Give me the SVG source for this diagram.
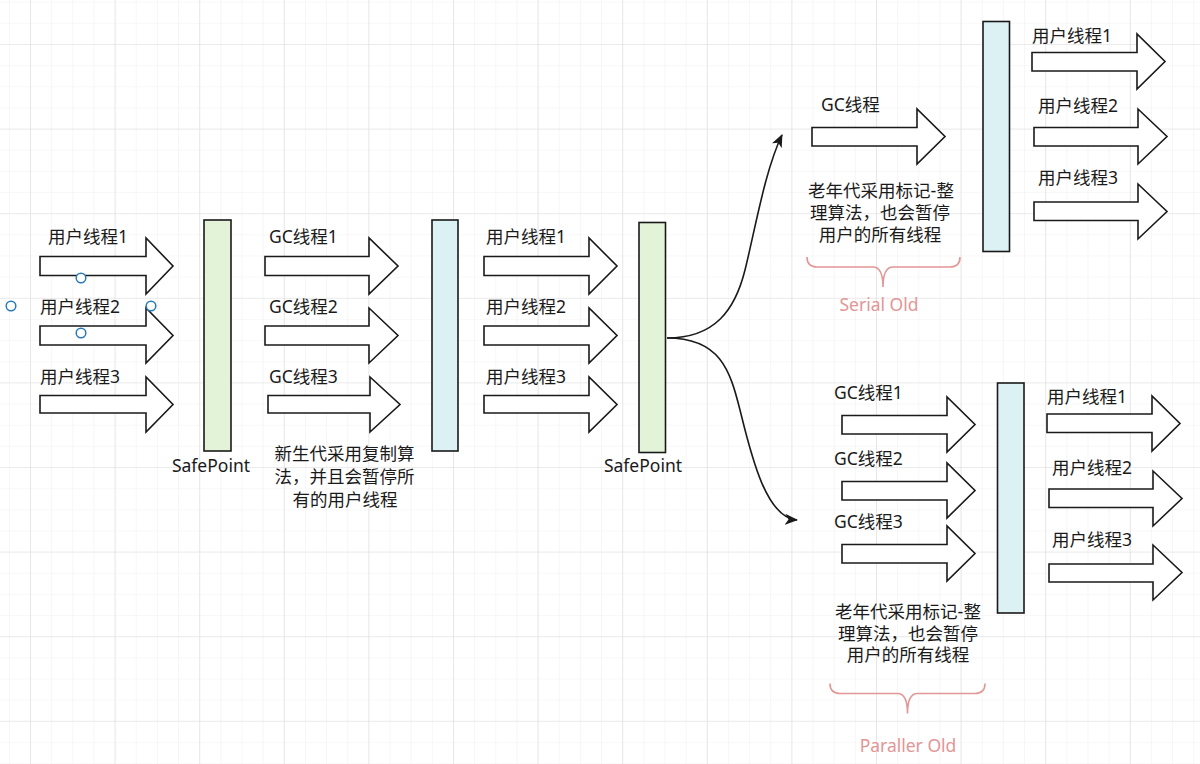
<svg xmlns="http://www.w3.org/2000/svg" width="1200" height="764" viewBox="0 0 1200 764">
<style>
  .arr { fill: #ffffff; stroke: #1a1a1a; stroke-width: 1.6; stroke-linejoin: miter; }
  .bar-g { fill: #e3f3d8; stroke: #1a1a1a; stroke-width: 1.6; }
  .bar-c { fill: #dbf1f4; stroke: #1a1a1a; stroke-width: 1.6; }
  .lbl { font-family: "Microsoft YaHei", "Noto Sans", "Noto Sans CJK SC", sans-serif; font-size: 17.5px; fill: #1a1a1a; }
  .note { font-family: "Liberation Sans", "Noto Sans CJK SC", sans-serif; font-size: 17.5px; fill: #1a1a1a; text-anchor: middle; }
  .red { font-family: "Noto Sans", "Noto Sans CJK SC", sans-serif; font-size: 17.5px; fill: #e39696; text-anchor: middle; }
  .brace { fill: none; stroke: #e39696; stroke-width: 1.6; }
  .edge { fill: none; stroke: #1a1a1a; stroke-width: 1.6; }
  .handle { fill: #ffffff; stroke: #2a7ab8; stroke-width: 1.5; }
</style>
<defs>
  <pattern id="minor" x="30" y="44" width="21.15" height="21.15" patternUnits="userSpaceOnUse">
    <path d="M0,0 H21.15 M0,0 V21.15" fill="none" stroke="#f1f1f1" stroke-width="1.2"/>
  </pattern>
  <pattern id="major" x="30" y="44" width="84.6" height="84.6" patternUnits="userSpaceOnUse">
    <path d="M0,0 H84.6 M0,0 V84.6" fill="none" stroke="#dedede" stroke-width="1.2"/>
  </pattern>
  <marker id="head" markerWidth="13" markerHeight="11" refX="12" refY="5.5" orient="auto" markerUnits="userSpaceOnUse">
    <path d="M0,0 L13,5.5 L0,11 L3.5,5.5 Z" fill="#1a1a1a"/>
  </marker>
</defs>
<rect width="1200" height="764" fill="#ffffff"/>
<rect width="1200" height="764" fill="url(#minor)"/>
<rect width="1200" height="764" fill="url(#major)"/>

<g id="connectors">
  <path class="edge" d="M667,338 C715,338 735,310 745,270 S765,170 782,135" marker-end="url(#head)"/>
  <path class="edge" d="M667,338 C720,338 730,370 740,410 S765,518 797,520" marker-end="url(#head)"/>
</g>

<!-- Left user threads -->
<g id="user-left-1">
  <polygon class="arr" points="40,256.5 146,256.5 146,238 173,266 146,294 146,275.5 40,275.5"/>
  <text class="lbl" x="48" y="243">用户线程1</text>
</g>
<g id="user-left-2">
  <polygon class="arr" points="40,326 146,326 146,308 173,335.5 146,363 146,345 40,345"/>
  <text class="lbl" x="40" y="313">用户线程2</text>
</g>
<g id="user-left-3">
  <polygon class="arr" points="40,395.5 146,395.5 146,377 173,404.5 146,432 146,413 40,413"/>
  <text class="lbl" x="40" y="383">用户线程3</text>
</g>
<g id="handles">
  <circle class="handle" cx="81" cy="278" r="4.8"/>
  <circle class="handle" cx="11" cy="306" r="4.8"/>
  <circle class="handle" cx="151" cy="306" r="4.8"/>
  <circle class="handle" cx="81" cy="333" r="4.8"/>
</g>

<g id="safepoint-1">
  <rect class="bar-g" x="204" y="220" width="27" height="231"/>
  <text class="lbl" x="211" y="472" text-anchor="middle">SafePoint</text>
</g>

<!-- Young GC threads -->
<g id="gc-young-1">
  <polygon class="arr" points="265,256.5 369,256.5 369,238 398,266 369,294 369,275.5 265,275.5"/>
  <text class="lbl" x="269" y="243">GC线程1</text>
</g>
<g id="gc-young-2">
  <polygon class="arr" points="265,326 369,326 369,308 398,335.5 369,363 369,345 265,345"/>
  <text class="lbl" x="269" y="313">GC线程2</text>
</g>
<g id="gc-young-3">
  <polygon class="arr" points="268,395.5 370,395.5 370,377 400,404.5 370,432 370,413 268,413"/>
  <text class="lbl" x="269" y="383">GC线程3</text>
</g>
<g id="young-note">
  <text class="note" x="344.5" y="460">新生代采用复制算</text>
  <text class="note" x="344.5" y="483">法，并且会暂停所</text>
  <text class="note" x="345" y="506">有的用户线程</text>
</g>

<g id="young-bar">
  <rect class="bar-c" x="432" y="220" width="26" height="231"/>
</g>

<!-- Middle user threads -->
<g id="user-mid-1">
  <polygon class="arr" points="484,256.5 589,256.5 589,238 617,266 589,294 589,275.5 484,275.5"/>
  <text class="lbl" x="486" y="243">用户线程1</text>
</g>
<g id="user-mid-2">
  <polygon class="arr" points="484,326 589,326 589,308 617,335.5 589,363 589,345 484,345"/>
  <text class="lbl" x="486" y="313">用户线程2</text>
</g>
<g id="user-mid-3">
  <polygon class="arr" points="484,395.5 589,395.5 589,377 617,404.5 589,432 589,413 484,413"/>
  <text class="lbl" x="486" y="383">用户线程3</text>
</g>

<g id="safepoint-2">
  <rect class="bar-g" x="639" y="222.5" width="26.5" height="230"/>
  <text class="lbl" x="643" y="472" text-anchor="middle">SafePoint</text>
</g>

<!-- Serial Old -->
<g id="serial-gc">
  <polygon class="arr" points="812,127.5 917,127.5 917,109 945,136.5 917,164 917,146 812,146"/>
  <text class="lbl" x="821" y="111">GC线程</text>
</g>
<g id="serial-note">
  <text class="note" x="881" y="197">老年代采用标记-整</text>
  <text class="note" x="880" y="219">理算法，也会暂停</text>
  <text class="note" x="880" y="240.5">用户的所有线程</text>
</g>
<g id="serial-brace">
  <path class="brace" d="M807,257 Q807,267 817,267 L873,267 Q883,267 883,287 Q883,267 893,267 L950,267 Q960,267 960,257"/>
  <text class="red" x="879" y="311">Serial Old</text>
</g>
<g id="serial-bar">
  <rect class="bar-c" x="983" y="21.5" width="26.5" height="230"/>
</g>
<g id="serial-user-1">
  <polygon class="arr" points="1032,52.5 1137,52.5 1137,34 1165,61.5 1137,89 1137,71 1032,71"/>
  <text class="lbl" x="1032" y="42">用户线程1</text>
</g>
<g id="serial-user-2">
  <polygon class="arr" points="1034,127.5 1138,127.5 1138,109 1167,136.5 1138,164 1138,146 1034,146"/>
  <text class="lbl" x="1038" y="112">用户线程2</text>
</g>
<g id="serial-user-3">
  <polygon class="arr" points="1034,202 1138,202 1138,184 1167,211.5 1138,239 1138,220.5 1034,220.5"/>
  <text class="lbl" x="1038" y="184">用户线程3</text>
</g>

<!-- Paraller Old -->
<g id="par-gc-1">
  <polygon class="arr" points="842,415.5 947,415.5 947,397 975,424.5 947,452 947,434 842,434"/>
  <text class="lbl" x="834" y="399">GC线程1</text>
</g>
<g id="par-gc-2">
  <polygon class="arr" points="842,481.5 947,481.5 947,463 975,490.5 947,518 947,500 842,500"/>
  <text class="lbl" x="834" y="465">GC线程2</text>
</g>
<g id="par-gc-3">
  <polygon class="arr" points="842,544.5 947,544.5 947,526 975,553.5 947,581 947,563 842,563"/>
  <text class="lbl" x="834" y="528">GC线程3</text>
</g>
<g id="par-note">
  <text class="note" x="908" y="618">老年代采用标记-整</text>
  <text class="note" x="908" y="639.5">理算法，也会暂停</text>
  <text class="note" x="908" y="661">用户的所有线程</text>
</g>
<g id="par-brace">
  <path class="brace" d="M830,683.5 Q830,693.5 840,693.5 L897.5,693.5 Q907.5,693.5 907.5,713.5 Q907.5,693.5 917.5,693.5 L975,693.5 Q985,693.5 985,683.5"/>
  <text class="red" x="908" y="752">Paraller Old</text>
</g>
<g id="par-bar">
  <rect class="bar-c" x="997.5" y="383" width="26.5" height="230"/>
</g>
<g id="par-user-1">
  <polygon class="arr" points="1047,414 1152,414 1152,396 1180,423.5 1152,451 1152,432.5 1047,432.5"/>
  <text class="lbl" x="1047" y="403">用户线程1</text>
</g>
<g id="par-user-2">
  <polygon class="arr" points="1049,489 1153,489 1153,471 1182,498.5 1153,526 1153,507.5 1049,507.5"/>
  <text class="lbl" x="1052" y="474">用户线程2</text>
</g>
<g id="par-user-3">
  <polygon class="arr" points="1049,564 1153,564 1153,545 1182,572.5 1153,600 1153,582 1049,582"/>
  <text class="lbl" x="1052" y="546">用户线程3</text>
</g>
</svg>
